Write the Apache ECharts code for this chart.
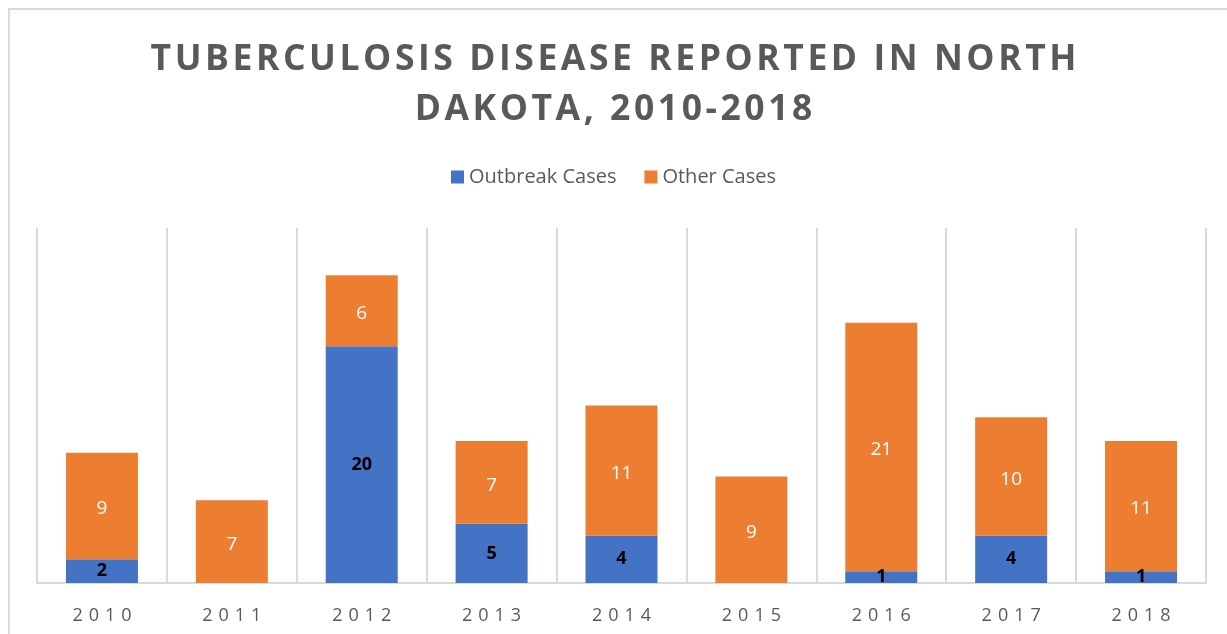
<!DOCTYPE html>
<html>
<head>
<meta charset="utf-8">
<script src="https://cdn.jsdelivr.net/npm/echarts@6/dist/echarts.min.js"></script>
<style>html,body{margin:0;padding:0;background:#fff;}#c{width:1227px;height:634px;}</style>
</head>
<body>
<div id="c"></div>
<script>
const years = ['2010','2011','2012','2013','2014','2015','2016','2017','2018'];
const outbreakCases = [2, 0, 20, 5, 4, 0, 1, 4, 1];
const otherCases = [9, 7, 6, 7, 11, 9, 21, 10, 11];
const titleLines = ['TUBERCULOSIS DISEASE REPORTED IN NORTH', 'DAKOTA, 2010-2018'];

const space = (s, sep) => s.split('').join(sep);
const chart = echarts.init(document.getElementById('c'), null, {renderer: 'canvas'});
chart.setOption({
  animation: false,
  backgroundColor: '#fff',
  color: ['#4472C4', '#ED7D31'],
  title: {
    text: titleLines.map(l => space(l, '\u200A')).join('\n'),
    left: 'center',
    top: 30,
    textStyle: {
      fontFamily: 'Open Sans',
      fontWeight: 'bold',
      fontSize: 35.5,
      color: '#595959',
      lineHeight: 50
    }
  },
  legend: {
    top: 162,
    left: 'center',
    itemWidth: 13,
    itemHeight: 13,
    itemGap: 28,
    icon: 'rect',
    textStyle: {fontFamily: 'Open Sans', fontSize: 20, color: '#595959'},
    data: ['Outbreak Cases', 'Other Cases']
  },
  graphic: [{
    type: 'rect',
    shape: {x: 9, y: 9, width: 1300, height: 700},
    style: {fill: 'none', stroke: '#d9d9d9', lineWidth: 2},
    silent: true
  }],
  grid: {left: 37, right: 21, top: 228, bottom: 51},
  xAxis: {
    type: 'category',
    data: years,
    axisLine: {lineStyle: {color: '#d9d9d9', width: 2}},
    axisTick: {show: false},
    splitLine: {show: true, lineStyle: {color: '#d9d9d9', width: 2}},
    axisLabel: {
      margin: 24,
      fontFamily: 'Open Sans',
      fontSize: 18,
      color: '#595959',
      formatter: v => space(v, '\u2009\u2009')
    }
  },
  yAxis: {
    type: 'value',
    min: 0,
    max: 30,
    interval: 5,
    show: false,
    splitLine: {show: false}
  },
  series: [{
    name: 'Outbreak Cases',
    type: 'bar',
    stack: 'total',
    barWidth: 72,
    data: outbreakCases,
    label: {
      show: true,
      position: 'inside',
      fontFamily: 'Open Sans',
      fontWeight: 'bold',
      fontSize: 18,
      color: '#000',
      formatter: p => p.value === 0 ? '' : String(p.value)
    }
  }, {
    name: 'Other Cases',
    type: 'bar',
    stack: 'total',
    barWidth: 72,
    data: otherCases,
    label: {
      show: true,
      position: 'inside',
      offset: [0, 3],
      fontFamily: 'Open Sans',
      fontSize: 19,
      color: '#fff'
    }
  }]
});
</script>
</body>
</html>
